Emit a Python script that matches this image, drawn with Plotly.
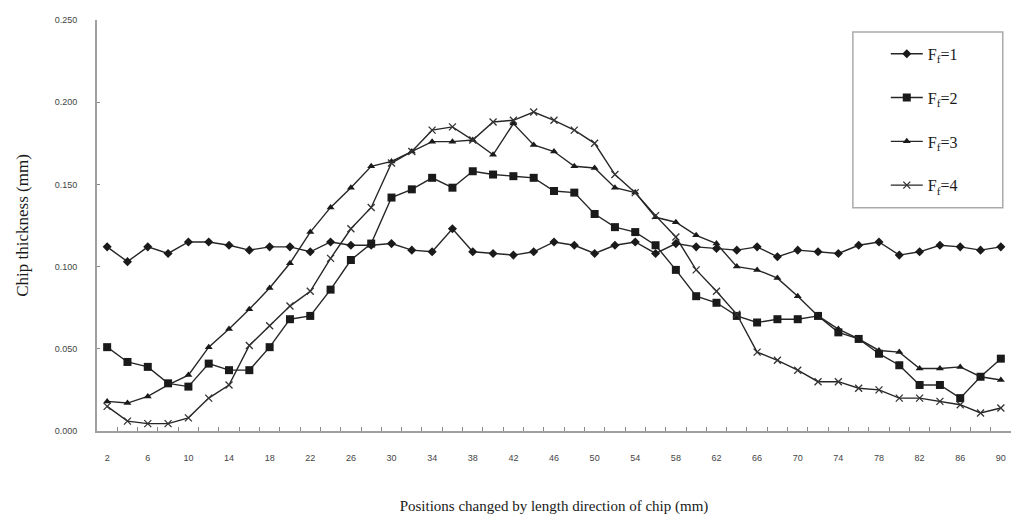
import plotly.graph_objects as go

positions = list(range(2, 92, 2))

fr1 = [0.112, 0.103, 0.112, 0.108, 0.115, 0.115, 0.113, 0.110, 0.112, 0.112,
       0.109, 0.115, 0.113, 0.113, 0.114, 0.110, 0.109, 0.123, 0.109, 0.108,
       0.107, 0.109, 0.115, 0.113, 0.108, 0.113, 0.115, 0.108, 0.114, 0.112,
       0.111, 0.110, 0.112, 0.106, 0.110, 0.109, 0.108, 0.113, 0.115, 0.107,
       0.109, 0.113, 0.112, 0.110, 0.112]
fr2 = [0.051, 0.042, 0.039, 0.029, 0.027, 0.041, 0.037, 0.037, 0.051, 0.068,
       0.070, 0.086, 0.104, 0.114, 0.142, 0.147, 0.154, 0.148, 0.158, 0.156,
       0.155, 0.154, 0.146, 0.145, 0.132, 0.124, 0.121, 0.113, 0.098, 0.082,
       0.078, 0.070, 0.066, 0.068, 0.068, 0.070, 0.060, 0.056, 0.047, 0.040,
       0.028, 0.028, 0.020, 0.033, 0.044]
fr3 = [0.018, 0.017, 0.021, 0.028, 0.034, 0.051, 0.062, 0.074, 0.087, 0.102,
       0.121, 0.136, 0.148, 0.161, 0.164, 0.170, 0.176, 0.176, 0.177, 0.168,
       0.187, 0.174, 0.170, 0.161, 0.160, 0.148, 0.145, 0.130, 0.127, 0.119,
       0.114, 0.100, 0.098, 0.093, 0.082, 0.070, 0.062, 0.056, 0.049, 0.048,
       0.038, 0.038, 0.039, 0.033, 0.031]
fr4 = [0.015, 0.006, 0.0045, 0.0045, 0.008, 0.020, 0.028, 0.052, 0.064, 0.076,
       0.085, 0.105, 0.123, 0.136, 0.163, 0.170, 0.183, 0.185, 0.177, 0.188,
       0.189, 0.194, 0.189, 0.183, 0.175, 0.156, 0.145, 0.131, 0.118, 0.098,
       0.085, 0.071, 0.048, 0.043, 0.037, 0.030, 0.030, 0.026, 0.025, 0.020,
       0.020, 0.018, 0.016, 0.011, 0.014]

names = ["F<sub>f</sub>=1", "F<sub>f</sub>=2", "F<sub>f</sub>=3", "F<sub>f</sub>=4"]
series = [fr1, fr2, fr3, fr4]
symbols = ["diamond", "square", "triangle-up", "x-thin"]
sizes = [7, 8, 7, 7]

x_ticks = list(range(2, 92, 4))
boundaries = [p + 1 for p in positions[:-1]]
y_ticks = [0, 0.05, 0.10, 0.15, 0.20, 0.25]

fig = go.Figure()
for i, (nm, ys, sym, sz) in enumerate(zip(names, series, symbols, sizes)):
    marker = dict(symbol=sym, size=sz, color="#1a1a1a")
    if sym == "x-thin":
        marker["line"] = dict(width=1.3, color="#333")
    fig.add_trace(go.Scatter(
        x=positions, y=ys, mode="lines+markers", name=nm,
        legendgroup=f"g{i}",
        line=dict(color="#262626", width=1.4),
        marker=marker,
        cliponaxis=False,
    ))

fig.update_layout(
    width=1011, height=522,
    margin=dict(l=97, r=0, t=20, b=91, autoexpand=False),
    paper_bgcolor="white", plot_bgcolor="white",
    showlegend=True,
    legend=dict(
        x=0.863, y=0.959, xanchor="left", yanchor="top",
        borderwidth=0, bgcolor="rgba(0,0,0,0)",
        font=dict(family="Liberation Serif", size=16, color="#1a1a1a"),
        tracegroupgap=20, itemwidth=32,
    ),
    font=dict(family="Liberation Sans", size=9, color="#444"),
    shapes=[dict(type="rect", xref="paper", yref="paper",
                 x0=0.827, x1=0.991, y0=0.543, y1=0.971,
                 line=dict(color="#aaaaaa", width=1.5),
                 fillcolor="rgba(0,0,0,0)", layer="below")],
)

fig.update_xaxes(
    range=[1, 91], showgrid=False, zeroline=False, automargin=False,
    showline=True, linecolor="#a0a0a0", linewidth=2,
    tickmode="array", tickvals=x_ticks, ticktext=[str(v) for v in x_ticks],
    ticks="", ticklabelstandoff=17,
    tickfont=dict(family="Liberation Sans", size=9, color="#444"),
    minor=dict(tickmode="array", tickvals=boundaries, ticks="inside",
               ticklen=4, tickcolor="#888", tickwidth=1),
    title=dict(text="Positions changed by length direction of chip (mm)",
               font=dict(family="Liberation Serif", size=15, color="#1a1a1a"),
               standoff=39),
)
fig.update_yaxes(
    range=[0, 0.25], showgrid=False, zeroline=False, automargin=False,
    showline=True, linecolor="#a0a0a0", linewidth=2,
    tickmode="array", tickvals=y_ticks, ticktext=[f"{v:.3f}" for v in y_ticks],
    ticks="inside", ticklen=3, tickcolor="#888",
    ticklabelstandoff=16,
    tickfont=dict(family="Liberation Sans", size=9, color="#444"),
    title=dict(text="Chip thickness (mm)",
               font=dict(family="Liberation Serif", size=17, color="#1a1a1a"),
               standoff=22),
)

fig.write_html("out.html", config={"displayModeBar": False},
               post_script="document.body.style.margin='0px';document.body.style.overflow='hidden';")
